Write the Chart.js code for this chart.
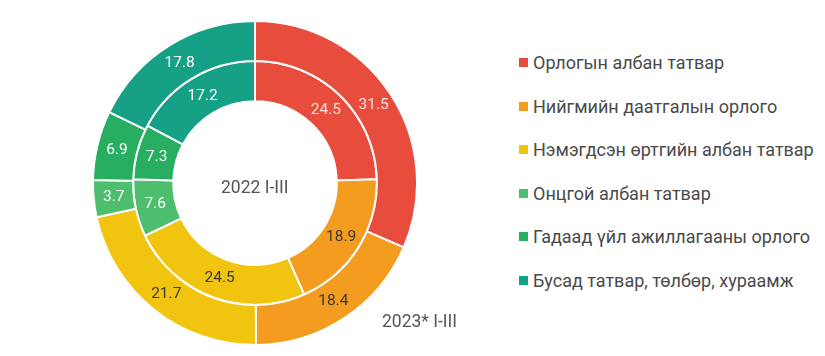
<!DOCTYPE html>
<html>
<head>
<meta charset="utf-8">
<script src="https://cdn.jsdelivr.net/npm/chart.js@4/dist/chart.umd.min.js"></script>
<style>
  html, body { margin: 0; padding: 0; background: #fff; }
  body { width: 825px; height: 356px; position: relative; overflow: hidden; font-family: Roboto, "Noto Sans", sans-serif; }
  #wrap { position: absolute; left: 92px; top: 20px; width: 326px; height: 326px; }
  #legend { position: absolute; left: 519px; top: 51px; margin: 0; padding: 0; list-style: none; }
  #legend li { height: 43.6px; line-height: 24px; font-size: 18px; color: #4a4a4a; white-space: nowrap; }
  #legend span.box { display: inline-block; width: 9px; height: 9px; margin-right: 5px; vertical-align: 2px; }
  .lbl { position: absolute; font-size: 17.5px; line-height: 20px; color: #555; white-space: nowrap; }
</style>
</head>
<body>
<div id="wrap"><canvas id="c"></canvas></div>
<ul id="legend"></ul>
<div class="lbl" id="centerLbl" style="left:221px; top:177px;"></div>
<div class="lbl" id="outerLbl" style="left:382px; top:311px;"></div>
<script>
const categories = [
  "Орлогын албан татвар",
  "Нийгмийн даатгалын орлого",
  "Нэмэгдсэн өртгийн албан татвар",
  "Онцгой албан татвар",
  "Гадаад үйл ажиллагааны орлого",
  "Бусад татвар, төлбөр, хураамж"
];
const series2023 = [31.5, 18.4, 21.7, 3.7, 6.9, 17.8];
const series2022 = [24.5, 18.9, 24.5, 7.6, 7.3, 17.2];
const seriesNames = ["2023* I-III", "2022 I-III"];
const colors = ["#E74C3C", "#F39C1F", "#F1C40F", "#4DBD6E", "#27AE60", "#16A085"];
const labelColors = ["#fbe3e0", "#3a3a3a", "#3a3a3a", "#ffffff", "#ffffff", "#ffffff"];

document.getElementById('centerLbl').textContent = seriesNames[1];
document.getElementById('outerLbl').textContent = seriesNames[0];

const legend = document.getElementById('legend');
categories.forEach((c, i) => {
  const li = document.createElement('li');
  li.innerHTML = '<span class="box" style="background:' + colors[i] + '"></span>' + c;
  legend.appendChild(li);
});

const valueLabels = {
  id: 'valueLabels',
  afterDatasetsDraw(chart) {
    const ctx = chart.ctx;
    ctx.save();
    ctx.font = '15.5px Roboto, "Noto Sans", sans-serif';
    ctx.textAlign = 'center';
    ctx.textBaseline = 'middle';
    chart.data.datasets.forEach((ds, di) => {
      const meta = chart.getDatasetMeta(di);
      meta.data.forEach((arc, i) => {
        const p = arc.tooltipPosition();
        ctx.fillStyle = labelColors[i];
        ctx.fillText(ds.data[i].toFixed(1), p.x, p.y);
      });
    });
    ctx.restore();
  }
};

new Chart(document.getElementById('c'), {
  type: 'doughnut',
  data: {
    labels: categories,
    datasets: [
      { label: seriesNames[0], data: series2023, backgroundColor: colors, borderColor: '#fff', borderWidth: 2, hoverBorderWidth: 2 },
      { label: seriesNames[1], data: series2022, backgroundColor: colors, borderColor: '#fff', borderWidth: 2, hoverBorderWidth: 2 }
    ]
  },
  options: {
    responsive: true,
    maintainAspectRatio: false,
    animation: false,
    cutout: '50.5%',
    layout: { padding: 0 },
    plugins: { legend: { display: false }, tooltip: { enabled: false } }
  },
  plugins: [valueLabels]
});
</script>
</body>
</html>
